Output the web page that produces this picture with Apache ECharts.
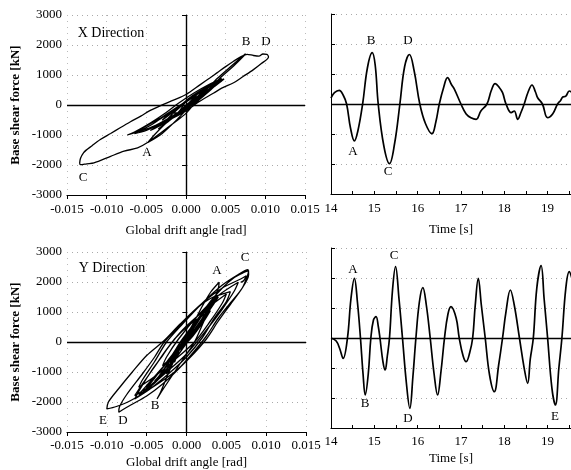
<!DOCTYPE html>
<html>
<head>
<meta charset="utf-8">
<script src="https://cdn.jsdelivr.net/npm/echarts@6/dist/echarts.min.js"></script>
<style>
  html, body { margin: 0; padding: 0; background: #fff; }
  #chart { width: 571px; height: 470px; }
</style>
</head>
<body>
<div id="chart"></div>
<script>
// X direction: drift angle [rad] / base shear [kN], traced along the loops
const xDrift = [0, 0.002, 0.004, 0.0025, 0.0005, -0.0015, -0.0035, -0.002, -0.0005, 0.0015, 0.0035, 0.0045, 0.003, 0.001, -0.001, -0.003, -0.0045, -0.003, -0.001, 0.0003,
  0.0045, 0.003, 0.001, -0.002, -0.005, -0.0065, -0.005, -0.003, -0.001, 0.001, 0.003, 0.0048, 0.0035, 0.0015, -0.001, -0.004, -0.006, -0.004, -0.002, 0.0, 0.002, 0.004, 0.0025, 0.0008,
  0.0018, 0.0012, -0.0005, -0.0025, -0.004, -0.0048,
  -0.003, -0.001, 0.0008, 0.0025, 0.004, 0.0055, 0.0068, 0.0075,
  0.0073, 0.006, 0.0045, 0.003, 0.0014, 0.0, -0.0015, -0.0032, -0.0049, -0.0061, -0.0078, -0.0095, -0.0116, -0.0125, -0.0133,
  -0.0134, -0.0129, -0.0118, -0.0108, -0.0095, -0.0083, -0.007, -0.0057, -0.0045, -0.0032, -0.0015, 0.0, 0.0018, 0.003, 0.0039, 0.005, 0.006, 0.007, 0.0077, 0.0085, 0.0092, 0.0097, 0.0102,
  0.0104, 0.0095, 0.0085, 0.0072, 0.006, 0.0045, 0.0035, 0.0014, 0.0, -0.002, -0.0045, -0.0062, -0.0074,
  -0.0065, -0.0045, -0.0025, -0.001, 0.001, 0.003, 0.0045,
  0.0035, 0.002, 0.0005, -0.001, -0.0025,
  -0.0015, 0.0, 0.0015, 0.003,
  0.002, 0.0005, -0.001, -0.002, -0.003,
  -0.0015, 0.0005, 0.0028,
  0.0015, 0.0, -0.002,
  -0.0012, 0.0, 0.0012, 0.002]
const xForce = [0, 350, 750, 420, 0, -400, -800, -500, -150, 250, 650, 800, 500, 100, -300, -650, -850, -620, -250, 200,
  850, 550, 150, -450, -850, -950, -700, -400, -50, 300, 650, 870, 600, 200, -250, -700, -900, -600, -250, 100, 450, 780, 450, 200,
  460, 300, -150, -600, -1000, -1250,
  -950, -450, 50, 500, 900, 1250, 1550, 1710,
  1640, 1300, 950, 560, 150, -280, -590, -930, -1260, -1430, -1540, -1710, -1930, -1960, -1990,
  -1930, -1590, -1350, -1150, -950, -760, -560, -370, -180, -20, 170, 350, 680, 900, 1070, 1280, 1460, 1620, 1690, 1650, 1630, 1700, 1690,
  1600, 1380, 1180, 950, 740, 560, 400, 70, -200, -480, -750, -900, -1000,
  -900, -600, -250, 50, 400, 700, 880,
  600, 250, -100, -350, -510,
  -250, 100, 400, 680,
  400, 50, -250, -290, -510,
  -200, 250, 630,
  210, -150, -460,
  -320, 0, 230, 430]

// X direction time history
const xTime = [14.00, 14.08, 14.19, 14.28, 14.36, 14.45, 14.54, 14.62, 14.73, 14.84, 14.95, 15.02, 15.09, 15.22, 15.35, 15.47, 15.59, 15.70, 15.81, 15.92,
  16.05, 16.18, 16.33, 16.42, 16.50, 16.60, 16.69, 16.78, 16.85, 17.00, 17.12, 17.23, 17.35, 17.46, 17.60, 17.70, 17.79, 17.88, 17.96, 18.04,
  18.16, 18.23, 18.31, 18.38, 18.46, 18.55, 18.64, 18.72, 18.77, 18.88, 19.00, 19.12, 19.23, 19.30, 19.35, 19.42, 19.50, 19.55]
const xShear = [200, 380, 457, 300, 0, -800, -1230, -900, 0, 1200, 1710, 1300, 0, -1400, -1990, -1300, 0, 1250, 1650, 1100,
  0, -650, -990, -600, 0, 550, 880, 650, 490, 0, -330, -457, -510, -233, 0, 450, 677, 560, 377, 0,
  -290, -233, -510, -300, 0, 400, 633, 400, 210, 0, -457, -323, 0, 120, 233, 260, 433, 400]

// Y direction: drift angle [rad] / base shear [kN]
const yDrift = [0, 0.0015, 0.003, 0.002, 0.0005, -0.001, -0.0025, -0.004, -0.003, -0.0015, 0.0, 0.002, 0.0035, 0.002, 0.0, -0.002, -0.0045, -0.0055, -0.004, -0.002, -0.0005,
  0.001, 0.0025, 0.004, 0.003, 0.0015, -0.001, -0.003, -0.005, -0.006, -0.0045, -0.0025, -0.0005, 0.0015, 0.003, 0.0038, 0.0025, 0.0008, -0.0015, -0.0035, -0.0052, -0.004, -0.002, 0.0,
  0, -0.0006, -0.0015,
  -0.0012, -0.0005, 0.0008, 0.002, 0.003, 0.0041,
  0.004, 0.0033, 0.0022, 0.001, -0.0005, -0.002, -0.003, -0.0037,
  -0.0033, -0.0022, -0.001, 0.0003, 0.0012,
  0.0008, -0.0003, -0.0015, -0.0025,
  -0.0022, -0.0012, 0.0, 0.0015, 0.003, 0.0045, 0.006, 0.0072, 0.0078,
  0.0077, 0.007, 0.0055, 0.004, 0.0025, 0.001, -0.001, -0.003, -0.005, -0.007, -0.0085,
  -0.0084, -0.0075, -0.0055, -0.004, -0.0028, -0.001, 0.001, 0.003, 0.0055,
  0.005, 0.0035, 0.002, 0.0, -0.002, -0.0045, -0.0065,
  -0.006, -0.0045, -0.003, -0.0015, 0.0005, 0.003,
  0.0022, 0.0008, -0.001, -0.003,
  -0.0025, -0.001, 0.0015, 0.004, 0.0065,
  0.006, 0.0045, 0.0025, 0.0, -0.0025, -0.0045, -0.0065,
  -0.0058, -0.0042, -0.0025, -0.0005, 0.002, 0.005,
  0.0045, 0.003, 0.001, -0.0015, -0.004, -0.006,
  -0.0055, -0.004, -0.0025, -0.0005, 0.002, 0.0045, 0.0065, 0.0077,
  0.0078, 0.007, 0.0055, 0.004, 0.0025, 0.0005, -0.0015, -0.0045, -0.007, -0.0088, -0.01,
  -0.0098, -0.0085, -0.0068, -0.005, -0.0028, -0.0008, 0.002, 0.0045, 0.0068, 0.0075,
  0.0072, 0.0068]
const yForce = [0, 600, 1200, 900, 300, -300, -900, -1300, -1000, -400, 200, 900, 1400, 800, 50, -600, -1500, -1700, -1200, -500, 0,
  500, 1100, 1500, 1100, 500, -400, -1100, -1600, -1750, -1300, -700, 100, 800, 1300, 1450, 950, 300, -600, -1200, -1600, -1150, -550, 50,
  0, -100, -680,
  -400, 0, 600, 1200, 1650, 1990,
  1800, 1300, 700, 0, -600, -1200, -1600, -1900,
  -1700, -1000, -300, 300, 710,
  400, -150, -600, -1067,
  -800, -300, 250, 800, 1350, 1800, 2150, 2320, 2380,
  2250, 1800, 1300, 800, 200, -300, -900, -1400, -1800, -2100, -2340,
  -2150, -1750, -1050, -500, 0, 500, 1050, 1450, 1677,
  1350, 800, 150, -500, -1000, -1550, -1900,
  -1650, -1000, -450, 100, 600, 1043,
  700, 200, -300, -790,
  -500, 100, 900, 1550, 1990,
  1700, 1100, 400, -400, -1000, -1450, -1790,
  -1500, -900, -250, 400, 1000, 1600,
  1300, 700, 0, -600, -1150, -1510,
  -1250, -650, 0, 600, 1300, 1900, 2250, 2410,
  2250, 1800, 1250, 700, 100, -500, -1000, -1550, -1950, -2150, -2233,
  -2000, -1550, -1000, -450, 50, 600, 1300, 1800, 2100, 2210,
  2050, 1990]

// Y direction time history
const yTime = [14.00, 14.12, 14.20, 14.28, 14.38, 14.46, 14.54, 14.61, 14.68, 14.74, 14.79, 14.86, 14.92, 14.98, 15.04, 15.09, 15.13, 15.20, 15.25, 15.30,
  15.35, 15.42, 15.49, 15.57, 15.65, 15.74, 15.82, 15.89, 15.96, 16.04, 16.12, 16.20, 16.29, 16.38, 16.46, 16.54, 16.62, 16.70, 16.77, 16.89,
  16.96, 17.05, 17.12, 17.20, 17.27, 17.33, 17.40, 17.47, 17.56, 17.66, 17.77, 17.87, 17.96, 18.04, 18.14, 18.23, 18.35, 18.46, 18.54, 18.60,
  18.67, 18.75, 18.85, 18.92, 19.00, 19.10, 19.18, 19.26, 19.33, 19.42, 19.50, 19.56]
const yShear = [0, -100, -350, -680, 0, 1300, 1990, 1200, 0, -1200, -1900, -1200, 0, 600, 710, 400, 0, -800, -1067, -600,
  0, 1600, 2380, 1300, 0, -1500, -2343, -1300, 0, 1200, 1677, 1100, 0, -1200, -1900, -1100, 0, 800, 1043, 657,
  0, -600, -790, -500, 0, 1100, 1990, 1100, 0, -1233, -1790, -900, 0, 877, 1600, 1100, 0, -1010, -1510, -700,
  0, 1657, 2410, 1300, 0, -1677, -2233, -1000, 0, 1657, 2210, 1990]

// 刻度
const forceTicks = [-3000, 3000, 1000]
const driftTicks = [-0.015, 0.015, 0.005]
const timeTicks = [14, 19.54, 1]

const pair = (a, b) => a.map((v, i) => [v, b[i]])

const FONT = '"Liberation Serif", "Times New Roman", serif'
const txt = { color: '#000', fontFamily: FONT, fontSize: 13 }

// 网格位置
const grids = [
  { left: 67, top: 15, width: 238, height: 180 },
  { left: 331, top: 14, width: 240, height: 180 },
  { left: 67, top: 252, width: 239, height: 180 },
  { left: 331, top: 248, width: 240, height: 180 },
]

function forceAxis(gi, labels) {
  return {
    type: 'value', gridIndex: gi,
    min: forceTicks[0], max: forceTicks[1], interval: forceTicks[2],
    name: labels ? 'Base shear force [kN]' : '',
    nameLocation: 'middle', nameGap: 45,
    nameTextStyle: Object.assign({}, txt, { fontWeight: 'bold' }),
    axisLine: { show: true, lineStyle: { color: '#000', width: 1 } },
    axisTick: { show: true, inside: !labels, length: 4, lineStyle: { color: '#000' } },
    axisLabel: Object.assign({ show: labels, margin: 5, formatter: v => String(v) }, txt),
    splitLine: { show: true, lineStyle: { color: '#aaa', type: [1, 4], width: 1 } },
  }
}

function driftAxis(gi, gap, margin) {
  return {
    type: 'value', gridIndex: gi,
    min: driftTicks[0], max: driftTicks[1], interval: driftTicks[2],
    name: 'Global drift angle [rad]', nameLocation: 'middle', nameGap: gap,
    nameTextStyle: txt,
    axisLine: { show: true, onZero: false, lineStyle: { color: '#000', width: 1.2 } },
    axisTick: { show: true, length: 4, lineStyle: { color: '#000' } },
    axisLabel: Object.assign({ margin: margin, formatter: v => v.toFixed(3) }, txt),
    splitLine: { show: true, lineStyle: { color: '#bbb', type: [1, 5], width: 1 } },
  }
}

function timeAxis(gi, gap, margin) {
  return {
    type: 'value', gridIndex: gi,
    min: timeTicks[0], max: timeTicks[1], interval: timeTicks[2],
    name: 'Time [s]', nameLocation: 'middle', nameGap: gap,
    nameTextStyle: txt,
    axisLine: { show: true, onZero: false, lineStyle: { color: '#000', width: 1.2 } },
    axisTick: { show: true, inside: true, length: 3, lineStyle: { color: '#000' } },
    minorTick: { show: true, splitNumber: 2, length: 3, lineStyle: { color: '#000' } },
    axisLabel: Object.assign({ margin: margin, showMaxLabel: false }, txt),
    splitLine: { show: false },
  }
}

const zeroH = { yAxis: 0 }
const zeroV = { xAxis: 0 }
function zeroLines(vertical) {
  return {
    silent: true, symbol: 'none', label: { show: false },
    lineStyle: { color: '#000', width: 1.4, type: 'solid' },
    data: vertical ? [zeroH, zeroV] : [zeroH],
  }
}

function lineSeries(gi, data, width, smooth, vertical) {
  return {
    type: 'line', xAxisIndex: gi, yAxisIndex: gi, data: data,
    showSymbol: false, symbol: 'none', smooth: smooth,
    lineStyle: { color: '#000', width: width },
    markLine: zeroLines(vertical),
  }
}

function label(text, x, y, size) {
  return {
    type: 'text', x: x, y: y, z: 100,
    style: { text: text, font: (size || 13) + 'px ' + FONT, fill: '#000', align: 'center', verticalAlign: 'middle' },
  }
}

const chart = echarts.init(document.getElementById('chart'))
chart.setOption({
  backgroundColor: '#fff',
  animation: false,
  grid: grids,
  xAxis: [driftAxis(0, 29, 8), timeAxis(1, 29, 8), driftAxis(2, 24, 7), timeAxis(3, 24, 7)],
  yAxis: [forceAxis(0, true), forceAxis(1, false), forceAxis(2, true), forceAxis(3, false)],
  series: [
    lineSeries(0, pair(xDrift, xForce), 1.3, 0.3, true),
    lineSeries(1, pair(xTime, xShear), 1.7, 0.4, false),
    lineSeries(2, pair(yDrift, yForce), 1.3, 0.3, true),
    lineSeries(3, pair(yTime, yShear), 1.7, 0.4, false),
  ],
  graphic: [
    label('X Direction', 111, 33, 14),
    label('B', 246, 42), label('D', 266, 42), label('A', 147, 153), label('C', 83, 178),
    label('A', 353, 152), label('B', 371, 41), label('C', 388, 172), label('D', 408, 41),
    label('Y Direction', 112, 268, 14),
    label('A', 217, 271), label('C', 245, 258), label('B', 155, 406), label('E', 103, 421), label('D', 123, 421),
    label('A', 353, 270), label('C', 394, 256), label('B', 365, 404), label('D', 408, 419), label('E', 555, 417),
  ],
})
</script>
</body>
</html>
